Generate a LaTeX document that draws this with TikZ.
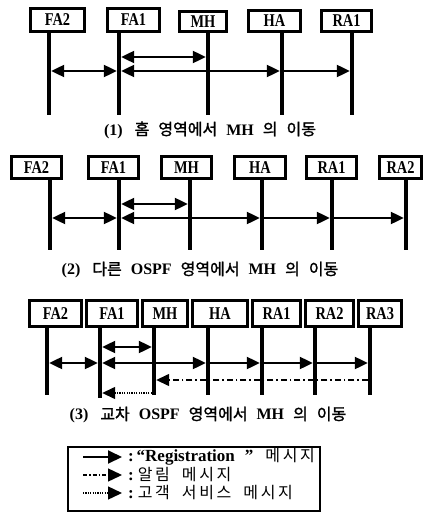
\documentclass[tikz,border=0pt]{standalone}
\usepackage{fontspec}
\setmainfont{Liberation Serif}
\newfontfamily\lab[FakeStretch=0.8]{Liberation Serif Bold}
\newfontfamily\latb{Liberation Serif Bold}
\newfontfamily\kr[FakeBold=1.5]{Noto Sans CJK KR}
\newfontfamily\krl{Noto Sans CJK KR}
\usetikzlibrary{arrows.meta}
\tikzset{
  agent/.style={draw,line width=3pt,inner sep=0pt,font=\lab\fontsize{18}{18}\selectfont},
  life/.style={line width=4.5pt},
  msg/.style={line width=2.2pt,shorten >=2.2pt,shorten <=2.2pt},
  one/.style={msg,-{Triangle[length=13pt,width=12pt]}},
  both/.style={msg,{Triangle[length=13pt,width=12pt]}-{Triangle[length=13pt,width=12pt]}},
  dashdot/.style={line width=1.4pt,dash pattern=on 6pt off 3pt on 1.5pt off 3pt},
  dotline/.style={line width=1.4pt,dash pattern=on 1.2pt off 1.2pt},
  capt/.style={inner sep=0pt},
  legtxt/.style={inner sep=0pt,anchor=west}
}
\newcommand{\cl}[1]{{\latb\fontsize{16}{16}\selectfont #1}}
\newcommand{\ck}[1]{{\kr\fontsize{16}{16}\selectfont #1}}
\newcommand{\lcl}[1]{{\latb\fontsize{17}{17}\selectfont #1}}
\newcommand{\lk}[1]{{\krl\fontsize{16}{16}\selectfont #1}}
\newcommand{\wsp}{\hspace{9pt}}
\begin{document}
\begin{tikzpicture}[x=1pt,y=-1pt]
\useasboundingbox (0,0) rectangle (426,516);

% ---------- (1) ----------
\node[agent,minimum width=54pt,minimum height=23pt] (aFA2) at (57.5,20) {FA2};
\node[agent,minimum width=52pt,minimum height=23pt] (aFA1) at (133.5,20) {FA1};
\node[agent,minimum width=47pt,minimum height=20pt] (aMH) at (203,21.5) {MH};
\node[agent,minimum width=52pt,minimum height=21pt] (aHA) at (274.5,21) {HA};
\node[agent,minimum width=50pt,minimum height=21pt] (aRA1) at (346.5,21) {RA1};
\foreach \n/\x in {FA2/49,FA1/119,MH/208,HA/282,RA1/352}{
  \coordinate (ta\n) at (\x,33);
  \coordinate (ba\n) at (\x,115);
  \draw[life] (ta\n) -- (ba\n);
}
\draw[both] (taFA1 |- 0,57) -- (taMH |- 0,57);
\draw[both] (taFA2 |- 0,71) -- (taFA1 |- 0,71);
\draw[both] (taFA1 |- 0,71) -- (taHA |- 0,71);
\draw[one] (taHA |- 0,71) -- (taRA1 |- 0,71);
\node[capt] (cap1) at (210,130) {\cl{(1)}\hspace{12pt}\ck{홈\wsp 영역에서}\wsp\cl{MH}\wsp\ck{의\wsp 이동}};

% ---------- (2) ----------
\node[agent,minimum width=50pt,minimum height=22pt] (bFA2) at (36.5,167.5) {FA2};
\node[agent,minimum width=50pt,minimum height=22pt] (bFA1) at (113.5,167.5) {FA1};
\node[agent,minimum width=50pt,minimum height=22pt] (bMH) at (186.5,167.5) {MH};
\node[agent,minimum width=51pt,minimum height=22pt] (bHA) at (260,167.5) {HA};
\node[agent,minimum width=50pt,minimum height=22pt] (bRA1) at (331.5,167.5) {RA1};
\node[agent,minimum width=42pt,minimum height=22pt] (bRA2) at (400.5,167.5) {RA2};
\foreach \n/\x in {FA2/50,FA1/119,MH/190,HA/262,RA1/332,RA2/406}{
  \coordinate (tb\n) at (\x,180);
  \coordinate (bb\n) at (\x,250);
  \draw[life] (tb\n) -- (bb\n);
}
\draw[both] (tbFA1 |- 0,204) -- (tbMH |- 0,204);
\draw[both] (tbFA2 |- 0,218) -- (tbFA1 |- 0,218);
\draw[both] (tbFA1 |- 0,218) -- (tbHA |- 0,218);
\draw[one] (tbHA |- 0,218) -- (tbRA1 |- 0,218);
\draw[one] (tbRA1 |- 0,218) -- (tbRA2 |- 0,218);
\node[capt] (cap2) at (200,270) {\cl{(2)}\hspace{12pt}\ck{다른}\wsp\cl{OSPF}\wsp\ck{영역에서}\wsp\cl{MH}\wsp\ck{의\wsp 이동}};

% ---------- (3) ----------
\node[agent,minimum width=52pt,minimum height=26pt] (cFA2) at (55.5,313.5) {FA2};
\node[agent,minimum width=51pt,minimum height=26pt] (cFA1) at (112,313.5) {FA1};
\node[agent,minimum width=45pt,minimum height=26pt] (cMH) at (165,313.5) {MH};
\node[agent,minimum width=55pt,minimum height=26pt] (cHA) at (220,313.5) {HA};
\node[agent,minimum width=48pt,minimum height=26pt] (cRA1) at (276.5,313.5) {RA1};
\node[agent,minimum width=48pt,minimum height=26pt] (cRA2) at (329.5,313.5) {RA2};
\node[agent,minimum width=43pt,minimum height=26pt] (cRA3) at (380,313.5) {RA3};
\foreach \n/\x/\e in {FA2/47/395,FA1/100/398,MH/154/395,HA/208/395,RA1/262/395,RA2/315/395,RA3/370/395}{
  \coordinate (tc\n) at (\x,328);
  \coordinate (bc\n) at (\x,\e);
  \draw[life] (tc\n) -- (bc\n);
}
\draw[both] (tcFA1 |- 0,347) -- (tcMH |- 0,347);
\draw[both] (tcFA2 |- 0,363) -- (tcFA1 |- 0,363);
\draw[both] (tcFA1 |- 0,363) -- (tcHA |- 0,363);
\draw[one] (tcHA |- 0,363) -- (tcRA1 |- 0,363);
\draw[one] (tcRA1 |- 0,363) -- (tcRA2 |- 0,363);
\draw[one] (tcRA2 |- 0,363) -- (tcRA3 |- 0,363);
\draw[one,dashdot] (tcRA3 |- 0,380) -- (tcMH |- 0,380);
\draw[one,dotline] (tcMH |- 0,393) -- (tcFA1 |- 0,393);
\node[capt] (cap3) at (208,415) {\cl{(3)}\hspace{12pt}\ck{교차}\wsp\cl{OSPF}\wsp\ck{영역에서}\wsp\cl{MH}\wsp\ck{의\wsp 이동}};

% ---------- legend ----------
\node[draw,line width=2pt,minimum width=252pt,minimum height=64pt,inner sep=0pt] (leg) at (194,479) {};
\coordinate (l1s) at (83,457); \coordinate (l1e) at (122,457);
\coordinate (l2s) at (83,475); \coordinate (l2e) at (122,475);
\coordinate (l3s) at (83,493); \coordinate (l3e) at (122,493);
\draw[line width=2pt,-{Triangle[length=14pt,width=13pt]}] (l1s) -- (l1e);
\draw[line width=1.4pt,dash pattern=on 4pt off 2pt on 1.5pt off 2pt,-{Triangle[length=14pt,width=13pt]}] (l2s) -- (l2e);
\draw[line width=1.4pt,dash pattern=on 1.2pt off 1.2pt,-{Triangle[length=14pt,width=13pt]}] (l3s) -- (l3e);
\node[legtxt] (t1) at (128,457) {\lcl{:\,“Registration\hspace{10pt}”}\hspace{12pt}\lk{메\,시\,지}};
\node[legtxt] (t2) at (128,475) {\lcl{:}\hspace{4pt}\lk{알\,림\hspace{12pt}메\,시\,지}};
\node[legtxt] (t3) at (128,493) {\lcl{:}\hspace{4pt}\lk{고\,객\hspace{12pt}서\,비\,스\hspace{12pt}메\,시\,지}};
\end{tikzpicture}
\end{document}
